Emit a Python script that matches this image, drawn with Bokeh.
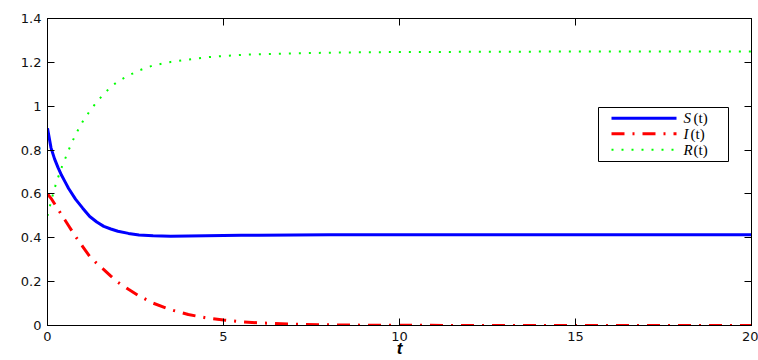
from bokeh.plotting import figure
from bokeh.models import (LinearAxis, FixedTicker, CustomJSTickFormatter, Range1d,
                          BoxAnnotation, Arrow, Label)
from bokeh.embed import file_html
from bokeh.resources import INLINE

# ---- data ----
t = [0, 0.1, 0.2, 0.3, 0.4, 0.5, 0.6, 0.8, 1.0, 1.2, 1.4, 1.6, 1.8, 2.0, 2.3, 2.6,
     3.0, 3.5, 4.0, 4.5, 5.0, 5.5, 6.0, 7.0, 8.0, 9.0, 10.0, 12.0, 14.0, 16.0, 18.0, 20.0]
S = [0.90, 0.81, 0.76, 0.72, 0.685, 0.655, 0.625, 0.575, 0.535, 0.497, 0.472, 0.452,
     0.44, 0.43, 0.42, 0.413, 0.409, 0.407, 0.408, 0.409, 0.410, 0.411, 0.412, 0.413,
     0.414, 0.414, 0.414, 0.414, 0.414, 0.414, 0.414, 0.414]
I = [0.60, 0.58, 0.555, 0.53, 0.505, 0.48, 0.455, 0.405, 0.36, 0.315, 0.283, 0.255,
     0.225, 0.197, 0.165, 0.135, 0.102, 0.072, 0.05, 0.035, 0.025, 0.017, 0.012, 0.006,
     0.003, 0.0015, 0.001, 0.0003, 0.0001, 0.0, 0.0, 0.0]
R = [0.50, 0.565, 0.625, 0.675, 0.72, 0.76, 0.80, 0.872, 0.93, 0.978, 1.02, 1.056,
     1.088, 1.113, 1.14, 1.163, 1.186, 1.202, 1.213, 1.223, 1.229, 1.234, 1.237, 1.241,
     1.244, 1.246, 1.247, 1.248, 1.249, 1.25, 1.25, 1.25]

x_ticks = [0, 5, 10, 15, 20]
y_ticks = [0, 0.2, 0.4, 0.6, 0.8, 1.0, 1.2, 1.4]
series_letters = ["S", "I", "R"]
series_suffix = "(t)"
x_label = "t"

colors = ["#0000ff", "#ff0000", "#00ff00"]
dashes = ["solid", "13 8 2 8", "2 8"]
widths = [3, 3, 2]

p = figure(width=758, height=360, output_backend="svg", toolbar_location=None,
           x_range=Range1d(0, 20), y_range=Range1d(0, 1.4),
           min_border_left=47, min_border_right=7, min_border_top=18, min_border_bottom=35)
p.background_fill_color = "white"
p.border_fill_color = "white"
p.outline_line_color = "black"
p.outline_line_width = 1
p.xgrid.visible = False
p.ygrid.visible = False

bottom = p.below[0]
left = p.left[0]

fmt = CustomJSTickFormatter(code="return String(Math.round(tick*10)/10);")
blank = CustomJSTickFormatter(code="return '';")

right = LinearAxis()
top = LinearAxis()
p.add_layout(right, "right")
p.add_layout(top, "above")

for ax in [bottom, top]:
    ax.ticker = FixedTicker(ticks=x_ticks)
for ax in [left, right]:
    ax.ticker = FixedTicker(ticks=y_ticks)
left.formatter = fmt

for ax in [bottom, left, right, top]:
    ax.major_tick_in = 7
    ax.major_tick_out = 0
    ax.minor_tick_line_color = None
    ax.axis_line_color = "black"
    ax.major_tick_line_color = "black"
    ax.major_label_text_font = "DejaVu Sans"
    ax.major_label_text_font_size = "13px"
    ax.major_label_text_color = "#111111"
    ax.major_label_standoff = 6

for ax in [right, top]:
    ax.formatter = blank
    ax.major_label_standoff = 0

bottom.axis_label = x_label
bottom.axis_label_text_font = "Liberation Sans"
bottom.axis_label_text_font_style = "bold italic"
bottom.axis_label_text_font_size = "17px"
bottom.axis_label_text_color = "black"
bottom.axis_label_standoff = -5

for ys, c, d, w in zip([S, I, R], colors, dashes, widths):
    p.line(t, ys, line_color=c, line_dash=d, line_width=w)

# legend (screen units relative to plot frame)
box = BoxAnnotation(left=551, right=681, bottom=164, top=218,
                    left_units="screen", right_units="screen",
                    bottom_units="screen", top_units="screen",
                    fill_color="white", fill_alpha=1.0,
                    line_color="black", line_width=1, line_alpha=1.0)
p.add_layout(box)

row_y = [207.3, 191.7, 175.7]
suffix_dx = [10, 7, 10]
for k in range(3):
    p.add_layout(Arrow(x_start=564, y_start=row_y[k], x_end=629, y_end=row_y[k],
                       start_units="screen", end_units="screen", end=None,
                       line_color=colors[k], line_dash=dashes[k], line_width=widths[k]))
    p.add_layout(Label(x=636, y=row_y[k], x_units="screen", y_units="screen",
                       text=series_letters[k], text_font="Liberation Serif",
                       text_font_style="italic", text_font_size="15px",
                       text_baseline="middle", text_color="black"))
    p.add_layout(Label(x=636 + suffix_dx[k], y=row_y[k], x_units="screen", y_units="screen",
                       text=series_suffix, text_font="Liberation Serif",
                       text_font_size="15px", text_baseline="middle", text_color="black"))

open("out.html", "w").write(file_html(p, INLINE))
